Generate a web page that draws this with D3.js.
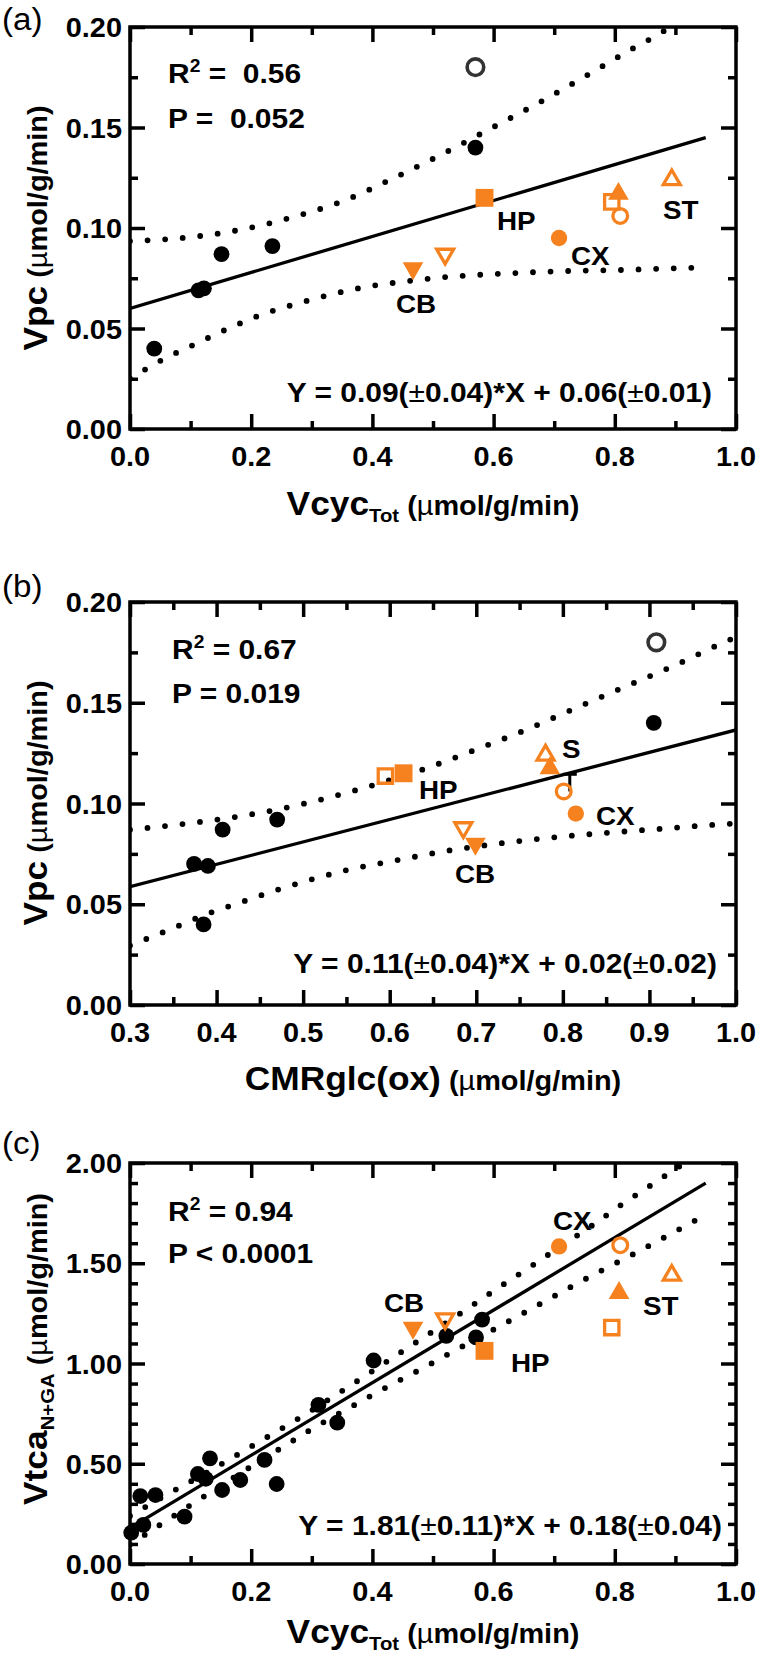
<!DOCTYPE html>
<html><head><meta charset="utf-8">
<script src="https://cdn.jsdelivr.net/npm/d3@7"></script>
<style>
body{margin:0;background:#fff}
text{font-family:"Liberation Sans",Arial,Helvetica,sans-serif;white-space:pre}
</style>
</head><body>
<svg id="chart" width="760" height="1655"></svg>
<script>
// ---------------- DATA ----------------
const regionNames = ["HP", "CB", "CX", "ST"];

// Panel (a): Vpc vs VcycTot
const aBlack     = [[0.040,0.040],[0.113,0.069],[0.122,0.070],[0.151,0.087],[0.235,0.091],[0.570,0.140]];
const aBlackOpen = [[0.570,0.180]];
const aFilled    = [[0.585,0.115],[0.467,0.080],[0.708,0.095],[0.806,0.117]]; // HP, CB, CX, ST
const aOpen      = [[0.795,0.113],[0.520,0.087],[0.809,0.106],[0.894,0.124]];
const aFit       = [[0,0.060],[0.95,0.145]];
const aUpper     = [[0,0.0935],[0.091,0.0952],[0.18,0.099],[0.267,0.1053],[0.353,0.1136],[0.434,0.1247],[0.515,0.1367],[0.594,0.1493],[0.674,0.1622],[0.752,0.1756],[0.829,0.1892],[0.881,0.198],[0.893,0.2005]];
const aLower     = [[0,0.025],[0.055,0.0347],[0.11,0.0426],[0.163,0.0501],[0.219,0.0571],[0.277,0.0625],[0.333,0.067],[0.391,0.0708],[0.451,0.0733],[0.51,0.0753],[0.57,0.0766],[0.63,0.0775],[0.69,0.0783],[0.749,0.0788],[0.81,0.0791],[0.87,0.0797],[0.95,0.0804]];
const aXTicks = [0,0.2,0.4,0.6,0.8,1.0], aXMinor = [0.1,0.3,0.5,0.7,0.9];
const aYTicks = [0,0.05,0.10,0.15,0.20], aYMinor = [0.025,0.075,0.125,0.175];

// Panel (b): Vpc vs CMRglc(ox)
const bBlack     = [[0.374,0.070],[0.390,0.069],[0.385,0.040],[0.407,0.087],[0.470,0.092],[0.905,0.140]];
const bBlackOpen = [[0.908,0.180]];
const bFilled    = [[0.616,0.115],[0.699,0.080],[0.815,0.095],[0.785,0.1175]];
const bOpen      = [[0.595,0.1136],[0.685,0.088],[0.801,0.106],[0.780,0.124]];
const bErrX      = 0.808, bErrY = [0.106,0.1145];
const bFit       = [[0.3,0.0587],[1.0,0.1365]];
const bUpper     = [[0.3,0.087],[0.374,0.0905],[0.436,0.0943],[0.498,0.0996],[0.559,0.1064],[0.639,0.117],[0.698,0.1265],[0.757,0.1365],[0.814,0.1472],[0.872,0.158],[0.93,0.1687],[0.986,0.18],[1.0,0.1826]];
const bLower     = [[0.3,0.0295],[0.349,0.038],[0.388,0.045],[0.427,0.0508],[0.467,0.0567],[0.507,0.062],[0.548,0.0667],[0.61,0.072],[0.672,0.0769],[0.733,0.0805],[0.797,0.0835],[0.859,0.0857],[0.921,0.0877],[0.984,0.0897],[1.0,0.0901]];
const bXTicks = [0.3,0.4,0.5,0.6,0.7,0.8,0.9,1.0], bXMinor = [0.35,0.45,0.55,0.65,0.75,0.85,0.95];
const bYTicks = aYTicks, bYMinor = aYMinor;

// Panel (c): VtcaN+GA vs VcycTot
const cBlack = [[0.002,0.156],[0.022,0.195],[0.017,0.339],[0.042,0.344],[0.090,0.236],[0.112,0.449],[0.125,0.425],
                [0.132,0.527],[0.152,0.369],[0.182,0.419],[0.222,0.519],[0.242,0.399],[0.311,0.794],[0.342,0.705],
                [0.402,1.015],[0.522,1.138],[0.571,1.130],[0.581,1.219]];
const cFilled = [[0.585,1.063],[0.467,1.178],[0.708,1.584],[0.807,1.352]];
const cOpen   = [[0.795,1.179],[0.520,1.223],[0.809,1.590],[0.894,1.440]];
const cFit    = [[0,0.18],[0.95,1.90]];
const cUpper  = [[0,0.24],[0.055,0.336],[0.134,0.469],[0.185,0.559],[0.237,0.652],[0.288,0.744],[0.338,0.84],[0.388,0.938],[0.438,1.038],[0.564,1.288],[0.613,1.388],[0.663,1.487],[0.712,1.587],[0.762,1.687],[0.811,1.792],[0.861,1.892],[0.915,2.0]];
const cLower  = [[0,0.097],[0.052,0.2],[0.102,0.298],[0.204,0.494],[0.255,0.589],[0.305,0.682],[0.358,0.772],[0.41,0.86],[0.49,0.988],[0.541,1.073],[0.621,1.204],[0.672,1.289],[0.725,1.378],[0.777,1.462],[0.831,1.546],[0.883,1.631],[0.935,1.717],[0.95,1.742]];
const cXTicks = aXTicks, cXMinor = aXMinor;
const cYTicks = [0,0.5,1.0,1.5,2.0], cYMinor = [0.1,0.2,0.3,0.4,0.6,0.7,0.8,0.9,1.1,1.2,1.3,1.4,1.6,1.7,1.8,1.9];

// ---------------- RENDERING ----------------
const svg = d3.select("#chart");
const SX = 1.07;             // horizontal text stretch of the original figure
const ORANGE = "#f5821f";
const LEFT = 130, RIGHT = 736;

function addText(parent, x, y, parts, o = {}) {
  const t = parent.append("text")
    .attr("transform", `translate(${x},${y}) rotate(${o.rotate || 0}) scale(${SX},1)`)
    .attr("text-anchor", o.anchor || "start")
    .attr("font-size", o.size || 28)
    .attr("font-weight", o.weight || "bold")
    .attr("fill", "#000");
  let shift = 0;
  parts.forEach(p => {
    if (typeof p === "string") p = {t: p};
    const want = p.dy || 0;
    const ts = t.append("tspan").text(p.t);
    if (p.size) ts.attr("font-size", p.size);
    if (p.w) ts.attr("font-weight", p.w);
    if (want !== shift) { ts.attr("dy", want - shift); shift = want; }
  });
  return t;
}
function pm(s) { // render ± in a lighter weight like the original
  const out = [];
  s.split("±").forEach((seg, i) => { if (i > 0) out.push({t: "±", w: "normal"}); if (seg) out.push({t: seg}); });
  return out;
}
const unit = [{t: " (", size: 27}, {t: "µ", size: 27, w: "normal"}, {t: "mol/g/min)", size: 27}];

function panel(P) {
  const g = svg.append("g");
  const x = d3.scaleLinear().domain(P.xDomain).range([LEFT, RIGHT]);
  const y = d3.scaleLinear().domain(P.yDomain).range([P.bottom, P.top]);
  const cid = "clip" + P.id;
  g.append("clipPath").attr("id", cid).append("rect")
    .attr("x", LEFT).attr("y", P.top).attr("width", RIGHT - LEFT).attr("height", P.bottom - P.top);
  const plot = g.append("g").attr("clip-path", `url(#${cid})`);

  const curve = d3.line().x(d => x(d[0])).y(d => y(d[1])).curve(d3.curveMonotoneX);
  const straight = d3.line().x(d => x(d[0])).y(d => y(d[1]));
  [P.upper, P.lower].forEach(b => plot.append("path").attr("d", curve(b))
    .attr("fill", "none").attr("stroke", "#000").attr("stroke-width", 5.8)
    .attr("stroke-linecap", "round").attr("stroke-dasharray", "0 17.6"));
  plot.append("path").attr("d", straight(P.fit)).attr("fill", "none")
    .attr("stroke", "#000").attr("stroke-width", 3.3);

  // error bar (panel b)
  if (P.errX !== undefined) {
    g.append("line").attr("x1", x(P.errX)).attr("x2", x(P.errX))
      .attr("y1", y(P.errY[0])).attr("y2", y(P.errY[1])).attr("stroke", "#000").attr("stroke-width", 3);
    g.append("line").attr("x1", x(P.errX) - 7).attr("x2", x(P.errX) + 7)
      .attr("y1", y(P.errY[1])).attr("y2", y(P.errY[1])).attr("stroke", "#000").attr("stroke-width", 3);
  }

  // black points
  g.selectAll(null).data(P.black).join("circle")
    .attr("cx", d => x(d[0])).attr("cy", d => y(d[1])).attr("r", 7.9).attr("fill", "#000");
  g.selectAll(null).data(P.blackOpen || []).join("circle")
    .attr("cx", d => x(d[0])).attr("cy", d => y(d[1])).attr("r", 8.3)
    .attr("fill", "none").attr("stroke", "#333").attr("stroke-width", 3.6);

  // orange region markers
  const shapeOf = {HP: d3.symbolSquare, CB: d3.symbolTriangle, CX: d3.symbolCircle, ST: d3.symbolTriangle};
  const rotOf = {HP: 0, CB: 180, CX: 0, ST: 0};
  const filledSize = {HP: 320, CB: 185, CX: 210, ST: 185};
  const openSize = {HP: 205, CB: 125, CX: 170, ST: 125};
  const drawSet = (pts, filled) => {
    g.selectAll(null).data(pts.map((d, i) => ({d, r: regionNames[i]}))).join("path")
      .attr("transform", e => `translate(${x(e.d[0])},${y(e.d[1])}) rotate(${rotOf[e.r]})`)
      .attr("d", e => d3.symbol().type(shapeOf[e.r]).size(filled ? filledSize[e.r] : openSize[e.r])())
      .attr("fill", filled ? ORANGE : "none")
      .attr("stroke", filled ? "none" : ORANGE)
      .attr("stroke-width", filled ? 0 : 3.3)
      .attr("stroke-linejoin", "miter");
  };
  drawSet(P.open, false);
  drawSet(P.filled, true);

  // axes: ticks on all sides, pointing inward
  const tickStyle = sel => {
    sel.select(".domain").remove();
    sel.selectAll("text").remove();
    sel.selectAll("line").attr("stroke", "#000").attr("stroke-width", 3.5);
  };
  const axisDefs = [
    [d3.axisBottom(x), `translate(0,${P.bottom})`, P.xMajor, P.xMinor],
    [d3.axisTop(x), `translate(0,${P.top})`, P.xMajor, P.xMinor],
    [d3.axisLeft(y), `translate(${LEFT},0)`, P.yMajor, P.yMinor],
    [d3.axisRight(y), `translate(${RIGHT},0)`, P.yMajor, P.yMinor]
  ];
  axisDefs.forEach(([ax, tr, major, minor]) => {
    g.append("g").attr("transform", tr).call(ax.tickValues(major).tickSize(-15).tickSizeOuter(0)).call(tickStyle);
    g.append("g").attr("transform", tr).call(ax.tickValues(minor).tickSize(-8).tickSizeOuter(0)).call(tickStyle);
  });
  g.append("rect").attr("x", LEFT).attr("y", P.top).attr("width", RIGHT - LEFT).attr("height", P.bottom - P.top)
    .attr("fill", "none").attr("stroke", "#000").attr("stroke-width", 3.5);

  // tick labels
  P.yMajor.forEach(v => addText(g, LEFT - 8, y(v) + 10, [P.yFmt(v)], {anchor: "end", size: 27}));
  P.xMajor.forEach(v => addText(g, x(v), P.bottom + 37, [P.xFmt(v)], {anchor: "middle", size: 27}));

  // titles
  addText(g, 433, P.xTitleY, P.xTitle, {anchor: "middle", size: 33});
  addText(g, 47, P.yTitleC, P.yTitle, {anchor: "middle", size: 33, rotate: -90});

  // panel letter
  addText(g, 2, P.letterY, [P.letter], {size: 31, weight: "normal"});

  // statistics
  addText(g, P.statX, P.statY[0], [{t: "R"}, {t: "2", size: 18, dy: -11}, {t: P.r2, dy: 0}], {size: 28});
  addText(g, P.statX, P.statY[1], [P.p], {size: 28});
  addText(g, P.eqPos[0], P.eqPos[1], pm(P.eq), {anchor: "end", size: 28});

  // region labels
  P.labels.forEach(l => addText(g, l[1], l[2], [l[0]], {size: 26}));
}

const withDy0 = arr => arr.map((u, i) => i === 0 ? Object.assign({}, u, {dy: 0}) : u);
const xTitleVcyc = [{t: "Vcyc", size: 33}, {t: "Tot", size: 19, dy: 7}, ...withDy0(unit)];
const yTitleVpc = [{t: "Vpc", size: 33}, ...unit];

panel({
  id: "a", top: 27, bottom: 429, xDomain: [0, 1], yDomain: [0, 0.2],
  xMajor: aXTicks, xMinor: aXMinor, yMajor: aYTicks, yMinor: aYMinor,
  xFmt: d3.format(".1f"), yFmt: d3.format(".2f"),
  black: aBlack, blackOpen: aBlackOpen, filled: aFilled, open: aOpen,
  fit: aFit, upper: aUpper, lower: aLower,
  xTitle: xTitleVcyc, xTitleY: 515, yTitle: yTitleVpc, yTitleC: 228,
  letter: "(a)", letterY: 30,
  statX: 168, statY: [83, 128], r2: " =  0.56", p: "P =  0.052",
  eq: "Y = 0.09(±0.04)*X + 0.06(±0.01)", eqPos: [712, 402],
  labels: [["HP", 497, 230], ["CX", 571, 265], ["CB", 396, 313], ["ST", 663, 219]]
});

panel({
  id: "b", top: 602, bottom: 1005, xDomain: [0.3, 1], yDomain: [0, 0.2],
  xMajor: bXTicks, xMinor: bXMinor, yMajor: bYTicks, yMinor: bYMinor,
  xFmt: d3.format(".1f"), yFmt: d3.format(".2f"),
  black: bBlack, blackOpen: bBlackOpen, filled: bFilled, open: bOpen,
  errX: bErrX, errY: bErrY,
  fit: bFit, upper: bUpper, lower: bLower,
  xTitle: [{t: "CMRglc(ox)", size: 33}, ...unit], xTitleY: 1090, yTitle: yTitleVpc, yTitleC: 803,
  letter: "(b)", letterY: 597,
  statX: 172, statY: [659, 703], r2: " = 0.67", p: "P = 0.019",
  eq: "Y = 0.11(±0.04)*X + 0.02(±0.02)", eqPos: [717, 973],
  labels: [["HP", 419, 799], ["S", 562, 758], ["CX", 596, 825], ["CB", 455, 883]]
});

panel({
  id: "c", top: 1163, bottom: 1564, xDomain: [0, 1], yDomain: [0, 2],
  xMajor: cXTicks, xMinor: cXMinor, yMajor: cYTicks, yMinor: cYMinor,
  xFmt: d3.format(".1f"), yFmt: d3.format(".2f"),
  black: cBlack, blackOpen: [], filled: cFilled, open: cOpen,
  fit: cFit, upper: cUpper, lower: cLower,
  xTitle: xTitleVcyc, xTitleY: 1643,
  yTitle: [{t: "Vtca", size: 33}, {t: "N+GA", size: 19, dy: 7}, ...withDy0(unit)],
  yTitleC: 1349,
  letter: "(c)", letterY: 1154,
  statX: 168, statY: [1221, 1263], r2: " = 0.94", p: "P < 0.0001",
  eq: "Y = 1.81(±0.11)*X + 0.18(±0.04)", eqPos: [722, 1535],
  labels: [["CB", 384, 1312], ["HP", 511, 1372], ["ST", 643, 1315], ["CX", 553, 1230]]
});
</script>
</body></html>
